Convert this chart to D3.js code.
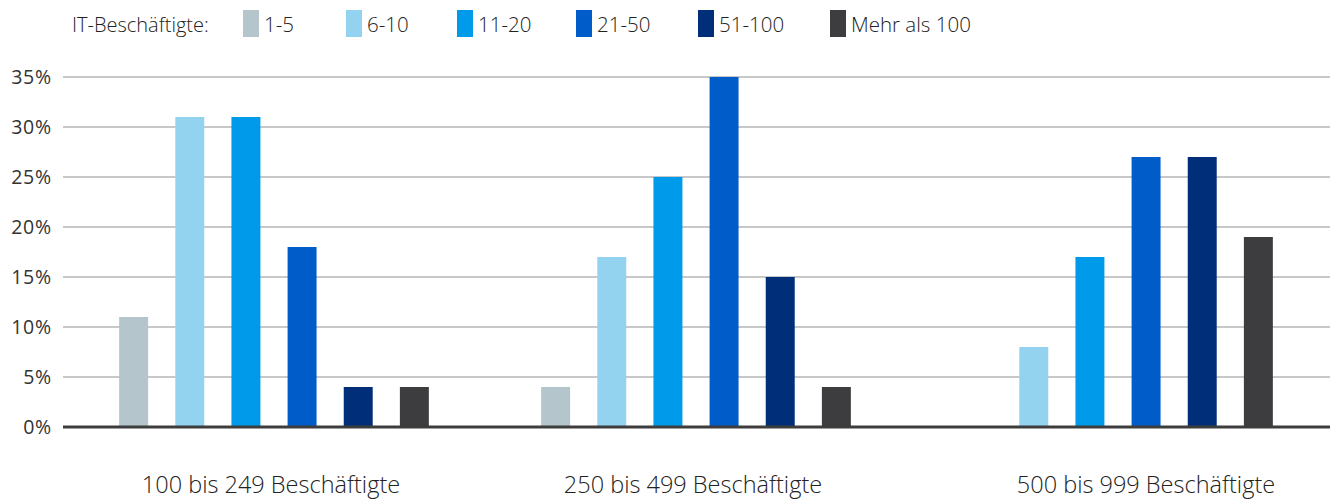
<!DOCTYPE html>
<html><head><meta charset="utf-8">
<script src="https://cdn.jsdelivr.net/npm/d3@7"></script>
<style>body{margin:0;background:#fff}svg{display:block}</style>
</head><body>
<script>
const groups = ["100 bis 249 Beschäftigte", "250 bis 499 Beschäftigte", "500 bis 999 Beschäftigte"];
const series = ["1-5", "6-10", "11-20", "21-50", "51-100", "Mehr als 100"];
const colors = ["#b4c5cc", "#93d3f0", "#009aea", "#005cc8", "#002e78", "#3d3d3f"];
const values = [
  [11, 31, 31, 18, 4, 4],
  [4, 17, 25, 35, 15, 4],
  [0, 8, 17, 27, 27, 19]
];
const yTicks = [0, 5, 10, 15, 20, 25, 30, 35];
const legendTitle = "IT-Beschäftigte:";

const W = 1333, H = 499;
const svg = d3.select("body").append("svg").attr("width", W).attr("height", H);
const left = 63, right = 1329, y0 = 427, yTop = 77;
const x0 = d3.scaleBand().domain(groups).range([left, right]).padding(0);
const x1 = d3.scaleBand().domain(series).range([0, x0.bandwidth()]).paddingInner(0.484).paddingOuter(1);
const y = d3.scaleLinear().domain([0, 35]).range([y0, yTop]);

const font = "'Open Sans', sans-serif";
// grid
svg.append("g").selectAll("line").data(yTicks.filter(d => d > 0)).join("line")
  .attr("x1", left).attr("x2", 1330).attr("y1", d => y(d)).attr("y2", d => y(d))
  .attr("stroke", "#c8c8c8").attr("stroke-width", 2);
// y labels
svg.append("g").selectAll("text").data(yTicks).join("text")
  .attr("x", 52).attr("y", d => y(d) + 7).attr("text-anchor", "end")
  .attr("font-family", "'Open Sans', sans-serif").attr("font-size", 19.5).attr("font-weight", 500)
  .attr("letter-spacing", 0.8).attr("fill", "#333")
  .text(d => d + "%");
// bars
const g = svg.append("g").selectAll("g").data(groups).join("g")
  .attr("transform", d => `translate(${x0(d)},0)`);
g.selectAll("rect").data((d, i) => values[i].map((v, j) => ({v, s: series[j], c: colors[j]})))
  .join("rect")
  .attr("x", d => x1(d.s)).attr("width", x1.bandwidth())
  .attr("y", d => y(d.v)).attr("height", d => y0 - y(d.v)).attr("fill", d => d.c);
// baseline
svg.append("line").attr("x1", left).attr("x2", 1330).attr("y1", y0).attr("y2", y0)
  .attr("stroke", "#3d3d3d").attr("stroke-width", 3);
// category labels
const labelShift = [-3, -3, 28];
svg.append("g").selectAll("text").data(groups).join("text")
  .attr("x", (d, i) => x0(d) + x0.bandwidth() / 2 + labelShift[i]).attr("y", 493).attr("text-anchor", "middle")
  .attr("font-family", font).attr("font-weight", 300).attr("font-size", 23.5).attr("fill", "#222").text(d => d);
// legend
svg.append("text").attr("x", 72).attr("y", 32).attr("font-family", font).attr("font-weight", 300)
  .attr("font-size", 20).attr("fill", "#222").text(legendTitle);
const lx = [243, 346, 457, 576, 698, 830];
const lg = svg.append("g").selectAll("g").data(series).join("g")
  .attr("transform", (d, i) => `translate(${lx[i]},10)`);
lg.append("rect").attr("width", 16).attr("height", 27).attr("fill", (d, i) => colors[i]);
lg.append("text").attr("x", 21).attr("y", 22).attr("font-family", font).attr("font-weight", 300)
  .attr("font-size", 20.5).attr("fill", "#222").text(d => d);
</script>
</body></html>
